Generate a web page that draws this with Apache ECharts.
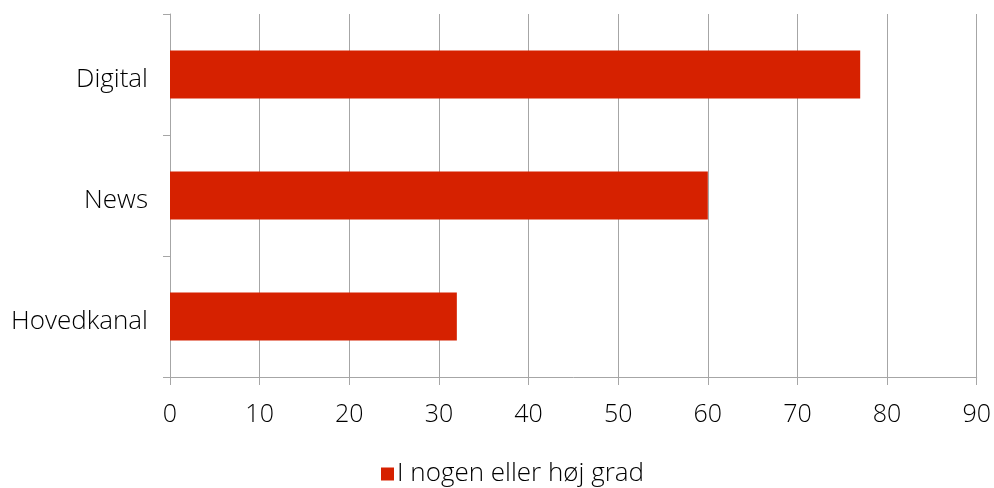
<!DOCTYPE html>
<html>
<head>
<meta charset="utf-8">
<style>
  html, body { margin: 0; padding: 0; background: #fff; }
  #chart { width: 994px; height: 488px; }
</style>
<script src="https://cdn.jsdelivr.net/npm/echarts@6/dist/echarts.min.js"></script>
</head>
<body>
<div id="chart"></div>
<script>
// Categories listed bottom to top along the vertical axis
const categories = ['Hovedkanal', 'News', 'Digital'];
const values = [32, 60, 77];
const seriesName = 'I nogen eller høj grad';
const xTicks = { min: 0, max: 90, interval: 10 };

const font = '"Open Sans", "Liberation Sans", sans-serif';
const grey = '#a6a6a6';
const textColor = '#000000';
const textWeight = 350;

const chart = echarts.init(document.getElementById('chart'), null, { renderer: 'canvas' });
chart.setOption({
  animation: false,
  backgroundColor: '#ffffff',
  grid: { left: 170, right: 17, top: 14, bottom: 111, containLabel: false },
  legend: {
    data: [seriesName],
    left: 376,
    top: 456,
    itemWidth: 13,
    itemHeight: 13,
    itemGap: 5,
    icon: 'rect',
    textStyle: { fontFamily: font, fontSize: 26, fontWeight: textWeight, color: textColor, padding: [4, 0, 0, -2] }
  },
  xAxis: {
    type: 'value',
    min: xTicks.min,
    max: xTicks.max,
    interval: xTicks.interval,
    axisLine: { show: true, lineStyle: { color: grey, width: 1 } },
    axisTick: { show: true, length: 8, lineStyle: { color: grey } },
    axisLabel: { fontFamily: font, fontSize: 25, fontWeight: textWeight, color: textColor, margin: 25 },
    splitLine: { show: true, lineStyle: { color: grey, width: 1 } }
  },
  yAxis: {
    type: 'category',
    data: categories,
    axisLine: { show: true, lineStyle: { color: grey, width: 1 } },
    axisTick: { show: true, length: 7, lineStyle: { color: grey } },
    axisLabel: {
      fontFamily: font, fontSize: 26, fontWeight: textWeight, color: textColor, margin: 22,
      formatter: '{a|{value}}',
      rich: { a: { fontFamily: font, fontSize: 26, fontWeight: textWeight, color: textColor, padding: [10, 0, 0, 0] } }
    },
    splitLine: { show: false }
  },
  series: [{
    name: seriesName,
    type: 'bar',
    data: values,
    barWidth: 48,
    itemStyle: { color: '#d62100' }
  }]
});
</script>
</body>
</html>
